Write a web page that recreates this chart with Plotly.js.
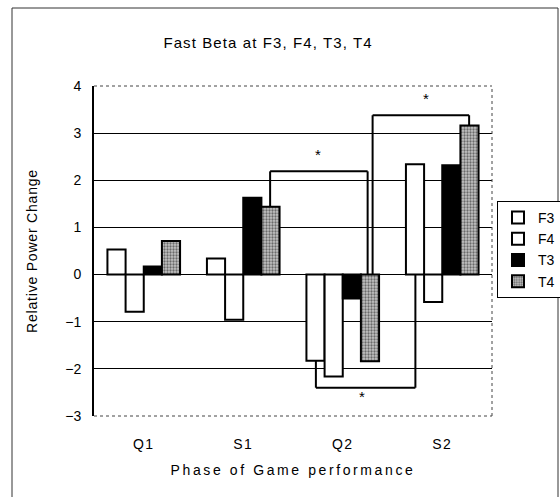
<!DOCTYPE html>
<html><head><meta charset="utf-8">
<script src="https://cdn.plot.ly/plotly-3.0.1.min.js"></script>
<style>html,body{margin:0;padding:0;background:#fff}#c{width:560px;height:497px}
#c .gtitle{letter-spacing:1.1px}
#c .xtitle{letter-spacing:2.6px}
#c .ytitle{letter-spacing:0.8px}
#c .xtick text{letter-spacing:1.5px}
</style>
</head><body><div id="c"></div>
<script>
var phases = ['Q1','S1','Q2','S2'];
var seriesNames = ['F3','F4','T3','T4'];
var F3 = [0.53, 0.34, -1.83, 2.34];
var F4 = [-0.79, -0.96, -2.16, -0.58];
var T3 = [0.17, 1.63, -0.51, 2.32];
var T4 = [0.71, 1.44, -1.84, 3.16];
var yTicks = [-3,-2,-1,0,1,2,3,4];
var yTickText = ['\u22123','\u22122','\u22121','0','1','2','3','4'];
// significance brackets (x in category units, y in data units)
var brX0 = [1.27, 2.30, 1.73];
var brX1 = [2.25, 3.27, 2.73];
var brLevel = [2.19, 3.38, -2.40];
var brStartY = [1.44, 0, -1.83];
var brEndY = [0, 3.16, 0];
var starX = [1.75, 2.84, 2.19];
var starY = [2.62, 3.80, -2.52];

var L=94, R=68, T=86, B=81, W=560, H=497;
var fillColors = ['#ffffff','#ffffff','#000000','#b4b4b4'];
var vals = [F3,F4,T3,T4];
var traces = vals.map(function(v,k){
  var m = {color: fillColors[k], line:{color:'#000', width:2}};
  if(k===3){ m.pattern = {shape:'.', fgcolor:'#6a6a6a', bgcolor:'#c4c4c4', size:3, solidity:0.45}; }
  return {type:'bar', name: seriesNames[k], x: phases, y: v, marker: m};
});
var shapes = [];
for (var i=0;i<brX0.length;i++){
  shapes.push({type:'line', xref:'x', yref:'y', x0:brX0[i], x1:brX0[i], y0:brStartY[i], y1:brLevel[i], line:{color:'#000',width:2}});
  shapes.push({type:'line', xref:'x', yref:'y', x0:brX0[i], x1:brX1[i], y0:brLevel[i], y1:brLevel[i], line:{color:'#000',width:2}});
  shapes.push({type:'line', xref:'x', yref:'y', x0:brX1[i], x1:brX1[i], y0:brLevel[i], y1:brEndY[i], line:{color:'#000',width:2}});
}
var pw = W-L-R, ph = H-T-B;
shapes.push({type:'line', xref:'paper', yref:'paper', x0:0, x1:1, y0:1, y1:1, line:{color:'#444',width:1,dash:'dot'}});
shapes.push({type:'line', xref:'paper', yref:'paper', x0:1, x1:1, y0:0, y1:1, line:{color:'#444',width:1,dash:'dot'}});
shapes.push({type:'line', xref:'paper', yref:'paper', x0:0, x1:1, y0:0, y1:0, line:{color:'#444',width:1,dash:'dot'}});
shapes.push({type:'rect', xref:'paper', yref:'paper', x0:(12-L)/pw, x1:(558-L)/pw, y0:(H-T-497)/ph, y1:(H-T-3)/ph, line:{color:'#333',width:1}});
var annotations = starX.map(function(x,i){
  return {x:x, y:starY[i], xref:'x', yref:'y', text:'*', showarrow:false, font:{size:15, color:'#000', family:'Liberation Sans, Arial'}, yshift:-3};
});
var layout = {
  width:W, height:H, margin:{l:L, r:R, t:T, b:B, autoexpand:false},
  paper_bgcolor:'#fff', plot_bgcolor:'#fff',
  font:{family:'Liberation Sans, Arial, sans-serif', color:'#000', size:13},
  title:{text:'Fast Beta at F3, F4, T3, T4', x:268/560, xref:'container', xanchor:'center', y:1-43/497, yref:'container', yanchor:'middle', font:{size:15}},
  barmode:'group', bargap:0.27, bargroupgap:0,
  xaxis:{type:'category', showgrid:false, zeroline:false, showline:false, ticks:'', tickfont:{size:14}, ticklabelstandoff:18,
    title:{text:'Phase of Game performance', font:{size:14}, standoff:14}},
  yaxis:{range:[-3,4], tickvals:yTicks, ticktext:yTickText, showgrid:true, gridcolor:'#000', gridwidth:1,
    zeroline:true, zerolinecolor:'#000', zerolinewidth:1, showline:true, linecolor:'#000', linewidth:2, ticks:'', tickfont:{size:14},
    ticklabelstandoff:8, title:{text:'Relative Power Change', font:{size:14}, standoff:24}},
  legend:{x:(497-L)/pw, xanchor:'left', y:(H-B-201)/ph, yanchor:'top', bordercolor:'#000', borderwidth:1, font:{size:14}, tracegroupgap:0, itemwidth:30},
  shapes:shapes, annotations:annotations, showlegend:true
};
Plotly.newPlot('c', traces, layout, {displayModeBar:false, staticPlot:true});
</script></body></html>
